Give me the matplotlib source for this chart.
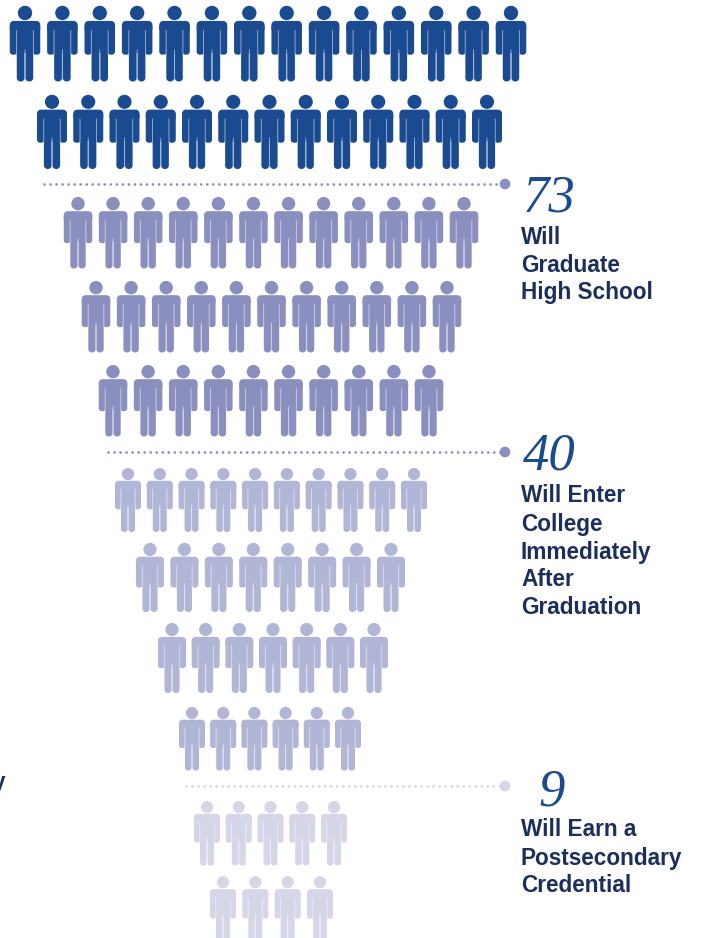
import matplotlib
matplotlib.use("Agg")
import matplotlib.pyplot as plt
import numpy as np
from matplotlib.path import Path
from matplotlib.patches import PathPatch, Circle, Rectangle
from matplotlib.colors import to_rgb

# ---- data -----------------------------------------------------------
tier_values = ["73", "40", "9"]
tier_labels = ["Will\nGraduate\nHigh School",
               "Will Enter\nCollege\nImmediately\nAfter\nGraduation",
               "Will Earn a\nPostsecondary\nCredential"]
row_counts_top = [14, 13]
row_counts_hs = [12, 11, 10]
row_counts_college = [10, 8, 7, 6]
row_counts_credential = [5, 4]

# ---- layout (pixels) --------------------------------------------------
W, H = 701, 938
DARK = "#1a4b91"; MID = "#8a8fbf"; LIGHT = "#b1b5d6"; PALE = "#d5d6e8"
NAVY = "#1b2f5e"
# (count, first centre x, last centre x, top y, bottom y, figure width)
rows = [
    (row_counts_top[0], 25, 511, 7, 81.5, 30.5, DARK),
    (row_counts_top[1], 52, 487, 96, 169, 30, DARK),
    (row_counts_hs[0], 78, 464, 198, 268.5, 28.5, MID),
    (row_counts_hs[1], 96, 447, 282, 352.5, 28.5, MID),
    (row_counts_hs[2], 113, 429, 366, 436.5, 28.5, MID),
    (row_counts_college[0], 128, 414, 469, 532, 26, LIGHT),
    (row_counts_college[1], 150, 391, 544, 612, 28, LIGHT),
    (row_counts_college[2], 172, 374, 624, 693, 28, LIGHT),
    (row_counts_college[3], 192, 348, 708, 770.5, 26, LIGHT),
    (row_counts_credential[0], 207, 334, 802, 865.5, 26, PALE),
    (row_counts_credential[1], 223, 320, 877, 942, 26, PALE),
]
# leader start x, y, colour, number x, number baseline y, label x, first label y
leaders = [(44, 184, MID, 523, 211, 521, 235),
           (108, 452, MID, 523, 470, 521, 494),
           (186, 786, PALE, 538, 805, 521, 828)]
LEADER_END = 505


def tint(color, f=0.55):
    return tuple(c + (1 - c) * f for c in to_rgb(color))


def rrect(x0, y0, x1, y1, r):
    k = 0.5523 * r
    v = [(x0 + r, y0), (x1 - r, y0),
         (x1 - r + k, y0), (x1, y0 + r - k), (x1, y0 + r), (x1, y1 - r),
         (x1, y1 - r + k), (x1 - r + k, y1), (x1 - r, y1), (x0 + r, y1),
         (x0 + r - k, y1), (x0, y1 - r + k), (x0, y1 - r), (x0, y0 + r),
         (x0, y0 + r - k), (x0 + r - k, y0), (x0 + r, y0), (x0 + r, y0)]
    c = [Path.MOVETO, Path.LINETO, Path.CURVE4, Path.CURVE4, Path.CURVE4, Path.LINETO,
         Path.CURVE4, Path.CURVE4, Path.CURVE4, Path.LINETO,
         Path.CURVE4, Path.CURVE4, Path.CURVE4, Path.LINETO,
         Path.CURVE4, Path.CURVE4, Path.CURVE4, Path.CLOSEPOLY]
    return Path(v, c)


def person(ax, cx, top, bottom, width, color):
    h = bottom - top
    w = width
    sy = lambda f: top + f * h
    sx = lambda f: cx + f * w
    ax.add_patch(Circle((cx, sy(0.08)), 0.235 * w, fc=color, ec="none"))
    parts = [
        rrect(sx(-0.5), sy(0.187), sx(0.5), sy(0.34), 0.13 * w),       # shoulders
        rrect(sx(-0.5), sy(0.22), sx(-0.255), sy(0.64), 0.1 * w),      # left arm
        rrect(sx(0.255), sy(0.22), sx(0.5), sy(0.64), 0.1 * w),        # right arm
        rrect(sx(-0.27), sy(0.2), sx(0.27), sy(0.62), 0.01 * w),       # torso
        rrect(sx(-0.27), sy(0.55), sx(-0.015), sy(1.0), 0.12 * w),     # left leg
        rrect(sx(0.015), sy(0.55), sx(0.27), sy(1.0), 0.12 * w),       # right leg
    ]
    for p in parts:
        ax.add_patch(PathPatch(p, fc=color, ec="none", snap=False))
    light = tint(color)
    # thin pale slits between arms and torso, and between the legs
    for fx in (-0.275, 0.275):
        ax.add_patch(Rectangle((sx(fx) - 0.45, sy(0.31)), 0.9, 0.33 * h,
                               fc=light, ec="none", snap=False))
    ax.add_patch(Rectangle((cx - 0.45, sy(0.57)), 0.9, 0.41 * h, fc=light, ec="none", snap=False))


fig = plt.figure(figsize=(W / 100, H / 100), dpi=100, facecolor="white")
ax = fig.add_axes([0, 0, 1, 1])
ax.set_xlim(0, W); ax.set_ylim(H, 0); ax.axis("off")

for n, x0, x1, top, bottom, wd, col in rows:
    for cx in np.linspace(x0, x1, n):
        person(ax, cx, top, bottom, wd, col)

for (xs, y, col, nx, ny, lx, ly), val, lab in zip(leaders, tier_values, tier_labels):
    ax.plot([xs, LEADER_END], [y, y], color=col, lw=2.0,
            dashes=(0.01, 2.16), dash_capstyle="round")
    ax.add_patch(Circle((LEADER_END, y), 5.3, fc=col, ec="none", zorder=3))
    ax.text(nx, ny, val, family="Liberation Serif", style="italic", fontsize=38,
            color=DARK, ha="left", va="baseline")
    for i, line in enumerate(lab.split("\n")):
        ax.text(lx, ly + 2 + 28 * i, line, family="Liberation Sans", weight="bold",
                fontsize=16.3, color=NAVY, ha="left", va="center")

# clipped remnant of text at the left edge
ax.text(-7, 783, "y", family="Liberation Sans", weight="bold", fontsize=16.3,
        color=NAVY, ha="left", va="center", clip_on=True)

fig.savefig("out.png", dpi=100, facecolor="white")
